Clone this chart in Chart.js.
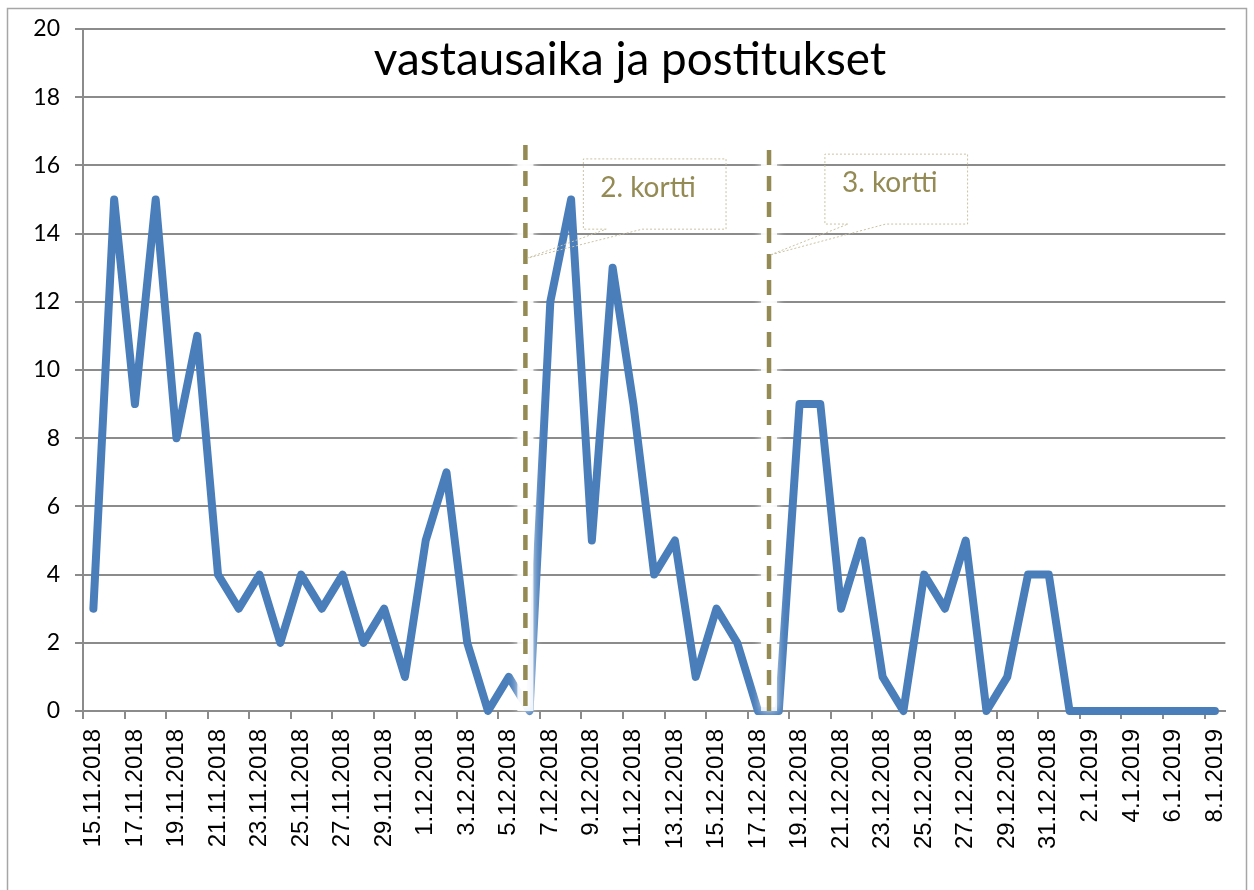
<!DOCTYPE html>
<html><head><meta charset="utf-8">
<script src="https://cdn.jsdelivr.net/npm/chart.js@4.4.1/dist/chart.umd.min.js"></script>
<style>html,body{margin:0;padding:0;background:#fff;}#wrap{width:1254px;height:890px;}</style>
</head><body><div id="wrap"><canvas id="c" width="1254" height="890"></canvas></div>
<script>
// ---- data ----
const categories = [
 '15.11.2018','16.11.2018','17.11.2018','18.11.2018','19.11.2018','20.11.2018','21.11.2018','22.11.2018',
 '23.11.2018','24.11.2018','25.11.2018','26.11.2018','27.11.2018','28.11.2018','29.11.2018','30.11.2018',
 '1.12.2018','2.12.2018','3.12.2018','4.12.2018','5.12.2018','6.12.2018','7.12.2018','8.12.2018',
 '9.12.2018','10.12.2018','11.12.2018','12.12.2018','13.12.2018','14.12.2018','15.12.2018','16.12.2018',
 '17.12.2018','18.12.2018','19.12.2018','20.12.2018','21.12.2018','22.12.2018','23.12.2018','24.12.2018',
 '25.12.2018','26.12.2018','27.12.2018','28.12.2018','29.12.2018','30.12.2018','31.12.2018',
 '1.1.2019','2.1.2019','3.1.2019','4.1.2019','5.1.2019','6.1.2019','7.1.2019','8.1.2019'
];
const values = [3,15,9,15,8,11,4,3,4,2, 4,3,4,2,3,1,5,7,2,0, 1,0,12,15,5,13,9,4,5,1,
                3,2,0,0,9,9,3,5,1,0, 4,3,5,0,1,4,4,0, 0,0,0,0,0,0,0];
const yMin = 0, yMax = 20, yStep = 2;
const chartTitle = 'vastausaika ja postitukset';
const markerLabels = ['2. kortti', '3. kortti'];
const markerIndex = [20.8, 32.53];   // fractional category position of the vertical marker lines

// ---- annotation geometry (data coordinates) ----
const markerLayout = [
  {top:16.6,  box:[23.59,30.46,16.19,14.13], wedge:[24.69,26.42,20.89,13.28], text:[24.4,15.07]},
  {top:16.45, box:[35.22,42.09,16.33,14.28], wedge:[36.33,38.15,32.57,13.37], text:[36.04,15.22]}
];

const GRID = '#8b8b8b';
const OLIVE = '#948A54';

const overlay = {
  id:'overlay',
  beforeDraw(chart){
    const ctx = chart.ctx;
    ctx.save();
    ctx.fillStyle = '#fff';
    ctx.fillRect(0,0,chart.width,chart.height);
    ctx.strokeStyle = '#a6a6a6';
    ctx.lineWidth = 1.5;
    ctx.strokeRect(7.5, 8.5, 1239, 1000);
    ctx.restore();
  },
  afterDatasetsDraw(chart){
    const {ctx, scales:{x, y}} = chart;
    ctx.save();
    markerIndex.forEach((mi, k) => {
      const L = markerLayout[k];
      const px = x.getPixelForValue(mi);
      const top = y.getPixelForValue(L.top), bot = y.getPixelForValue(0);
      ctx.save();
      ctx.strokeStyle = 'rgba(255,255,255,0.85)';
      ctx.lineWidth = 16;
      ctx.shadowColor = 'rgba(255,255,255,1)';
      ctx.shadowBlur = 8;
      ctx.beginPath(); ctx.moveTo(px, top); ctx.lineTo(px, bot); ctx.stroke();
      ctx.restore();
      ctx.strokeStyle = OLIVE;
      ctx.lineWidth = 4.5;
      ctx.setLineDash([15, 11]);
      ctx.beginPath(); ctx.moveTo(px, top); ctx.lineTo(px, bot); ctx.stroke();
      ctx.setLineDash([]);
      const bx0 = x.getPixelForValue(L.box[0]), bx1 = x.getPixelForValue(L.box[1]);
      const by0 = y.getPixelForValue(L.box[2]), by1 = y.getPixelForValue(L.box[3]);
      const w0 = x.getPixelForValue(L.wedge[0]), w1 = x.getPixelForValue(L.wedge[1]);
      const tx = x.getPixelForValue(L.wedge[2]), ty = y.getPixelForValue(L.wedge[3]);
      ctx.strokeStyle = '#c9c3a3';
      ctx.lineWidth = 1;
      ctx.setLineDash([2, 2]);
      ctx.beginPath();
      ctx.moveTo(w0, by1); ctx.lineTo(bx0, by1); ctx.lineTo(bx0, by0); ctx.lineTo(bx1, by0);
      ctx.lineTo(bx1, by1); ctx.lineTo(w1, by1); ctx.lineTo(tx, ty); ctx.closePath();
      ctx.stroke();
      ctx.setLineDash([]);
      ctx.fillStyle = OLIVE;
      ctx.font = '28px Lato';
      ctx.textAlign = 'left';
      ctx.textBaseline = 'alphabetic';
      ctx.fillText(markerLabels[k], x.getPixelForValue(L.text[0]), y.getPixelForValue(L.text[1]));
    });
    ctx.fillStyle = '#000';
    ctx.font = '40px Lato';
    const w = ctx.measureText(chartTitle).width;
    const size = 40 * 512 / w;
    ctx.font = size.toFixed(1) + 'px Lato';
    ctx.textAlign = 'center';
    ctx.fillText(chartTitle, 630, 75);
    ctx.restore();
  }
};

new Chart(document.getElementById('c'), {
  type:'line',
  data:{
    labels: categories,
    datasets:[{
      data: values,
      borderColor:'#4A7EBB',
      borderWidth:8,
      pointRadius:0,
      tension:0,
      fill:false,
      clip:false,
      borderJoinStyle:'round',
      borderCapStyle:'round'
    }]
  },
  plugins:[overlay],
  options:{
    responsive:false,
    animation:false,
    devicePixelRatio:1,
    layout:{padding:{left:0, right:27, top:29, bottom:0}},
    plugins:{legend:{display:false}, title:{display:false}, tooltip:{enabled:false}},
    scales:{
      x:{
        type:'category',
        offset:true,
        grid:{
          offset:true,
          drawOnChartArea:false,
          drawTicks:true,
          tickLength:8,
          lineWidth:2,
          tickWidth:2,
          color: c => (c.index % 2 === 0 ? GRID : 'rgba(0,0,0,0)'),
          tickColor: c => (c.index % 2 === 0 ? GRID : 'rgba(0,0,0,0)')
        },
        border:{display:true, color:GRID, width:2},
        ticks:{
          autoSkip:false, maxRotation:90, minRotation:90, padding:10, color:'#000',
          font:{family:'"Liberation Sans", Arial, sans-serif', size:24},
          callback:(v, i) => (i % 2 === 0 ? categories[i] : '')
        },
        afterFit: s => { s.height = 179; }
      },
      y:{
        min:yMin, max:yMax,
        ticks:{stepSize:yStep, padding:15, color:'#000', font:{family:'Lato', size:23}},
        grid:{color:GRID, lineWidth:2, tickLength:8, tickWidth:2, tickColor:GRID},
        border:{display:true, color:GRID, width:2},
        afterFit: s => { s.width = 83; }
      }
    }
  }
});
</script>
</body></html>
